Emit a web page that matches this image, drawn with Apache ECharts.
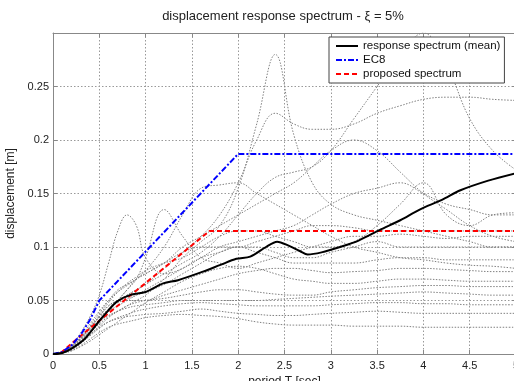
<!DOCTYPE html>
<html><head><meta charset="utf-8">
<script src="https://cdn.jsdelivr.net/npm/echarts@6/dist/echarts.min.js"></script>
<style>html,body{margin:0;padding:0;background:#fff}#c{width:514px;height:381px}</style>
</head><body><div id="c"></div>
<script>
// periods (s) for the individual records
var periods = [0,0.1,0.2,0.3,0.4,0.5,0.6,0.7,0.8,0.9,1.0,1.2,1.4,1.6,1.8,2.0,2.2,2.4,2.6,2.8,3.0,3.25,3.5,3.75,4.0,4.25,4.5,4.75,5.0];
// individual record spectra (m)
var rec1  = [0,.001,.005,.012,.02,.028,.035,.04,.045,.05,.055,.07,.09,.105,.12,.155,.215,.28,.205,.16,.14,.13,.125,.12,.115,.11,.105,.1,.1];
var rec2  = [0,.002,.006,.012,.02,.03,.04,.05,.055,.06,.065,.075,.085,.095,.11,.13,.15,.165,.17,.175,.19,.22,.25,.28,.3,.27,.22,.19,.172];
var rec3  = [0,.002,.007,.015,.025,.035,.045,.05,.055,.06,.065,.08,.095,.11,.13,.16,.2,.225,.215,.21,.21,.215,.225,.232,.238,.24,.24,.238,.237];
var rec4  = [0,.002,.008,.02,.035,.055,.085,.115,.13,.12,.09,.075,.08,.09,.1,.105,.11,.115,.12,.13,.14,.15,.155,.16,.15,.14,.135,.13,.13];
var rec5  = [0,.001,.004,.01,.02,.03,.04,.05,.06,.07,.09,.135,.11,.09,.085,.08,.085,.09,.095,.1,.105,.11,.11,.112,.11,.108,.11,.11,.11];
var rec6  = [0,.002,.007,.015,.025,.035,.045,.05,.052,.055,.058,.065,.075,.085,.095,.1,.1,.095,.09,.09,.095,.1,.105,.1,.1,.1,.1,.1,.1];
var rec7  = [0,.001,.005,.012,.022,.032,.04,.045,.05,.055,.06,.07,.08,.09,.095,.1,.095,.09,.085,.085,.085,.085,.088,.09,.09,.088,.088,.088,.088];
var rec8  = [0,.002,.006,.014,.024,.034,.042,.048,.05,.05,.05,.055,.06,.065,.07,.075,.078,.08,.08,.078,.076,.077,.078,.08,.08,.079,.078,.077,.077];
var rec9  = [0,.001,.004,.01,.018,.026,.034,.04,.045,.048,.05,.052,.055,.058,.06,.06,.058,.056,.055,.055,.058,.06,.062,.063,.064,.064,.063,.063,.063];
var rec10 = [0,.002,.006,.013,.022,.03,.036,.04,.043,.045,.046,.048,.05,.05,.05,.05,.05,.051,.052,.053,.054,.055,.056,.057,.058,.057,.056,.055,.055];
var rec11 = [0,.001,.004,.01,.017,.024,.03,.034,.037,.04,.042,.045,.047,.048,.047,.046,.045,.045,.045,.045,.046,.047,.048,.048,.047,.047,.046,.046,.046];
var rec12 = [0,.001,.005,.011,.018,.025,.03,.033,.035,.036,.037,.038,.04,.042,.04,.038,.037,.036,.036,.037,.038,.039,.04,.039,.038,.038,.038,.038,.038];
var rec13 = [0,.001,.003,.008,.014,.02,.025,.028,.03,.032,.034,.036,.037,.036,.035,.033,.03,.028,.027,.027,.027,.026,.026,.026,.025,.025,.025,.025,.025];
var rec14 = [0,.002,.006,.014,.024,.036,.048,.058,.066,.072,.078,.085,.09,.1,.11,.115,.115,.11,.105,.1,.1,.105,.12,.14,.16,.13,.12,.13,.132];
var rec15 = [0,.001,.005,.012,.02,.03,.04,.05,.06,.07,.075,.085,.095,.1,.1,.1,.105,.11,.115,.12,.12,.118,.115,.115,.115,.115,.115,.115,.115];
var rec16 = [0,.002,.007,.015,.026,.038,.05,.06,.065,.07,.075,.085,.1,.11,.12,.13,.14,.15,.16,.175,.19,.2,.19,.17,.15,.135,.12,.11,.105];
var rec17 = [0,.001,.003,.007,.012,.018,.024,.03,.036,.042,.048,.058,.068,.075,.08,.082,.08,.075,.07,.068,.066,.066,.068,.07,.07,.069,.068,.068,.068];
var rec18 = [0,.002,.007,.016,.028,.04,.05,.058,.064,.07,.078,.1,.13,.155,.158,.16,.15,.14,.13,.12,.11,.1,.095,.09,.088,.085,.083,.082,.08];
var records = [rec1,rec2,rec3,rec4,rec5,rec6,rec7,rec8,rec9,rec10,rec11,rec12,rec13,rec14,rec15,rec16,rec17,rec18];

// mean response spectrum
var meanT = [0,0.1,0.2,0.33,0.4,0.51,0.6,0.69,0.83,1.0,1.19,1.35,1.62,1.8,1.98,2.13,2.3,2.42,2.55,2.67,2.75,2.9,3.1,3.3,3.53,3.75,3.96,4.2,4.4,4.7,5.0];
var meanV = [0,0.001,0.005,0.013,0.02,0.032,0.041,0.049,0.055,0.058,0.066,0.069,0.077,0.083,0.089,0.091,0.1,0.105,0.101,0.096,0.093,0.095,0.1,0.106,0.116,0.125,0.135,0.144,0.153,0.162,0.169];
// EC8 spectrum
var ec8T = [0,0.1,0.2,0.3,0.4,0.5,2.0,5.0];
var ec8V = [0,0.002,0.008,0.018,0.032,0.05,0.187,0.187];
// proposed spectrum
var propT = [0,0.07,0.3,1.69,5.0];
var propV = [0,0,0.017,0.115,0.115];

var yTicks = [0,0.05,0.1,0.15,0.2,0.25];

function pairs(xs, ys){ return xs.map(function(x,i){ return [x, ys[i]]; }); }

var series = [];
records.forEach(function(r, i){
  series.push({
    name: 'record' + (i+1), type: 'line', data: pairs(periods, r), smooth: 0.4,
    symbol: 'none', silent: true, z: 1,
    lineStyle: { color: '#808080', width: 1, type: [1.5, 1.5] }
  });
});
series.push({ name: 'proposed spectrum', type: 'line', data: pairs(propT, propV), symbol: 'none', z: 3,
  lineStyle: { color: '#ff0000', width: 2, type: [5, 3] }, itemStyle: { color: '#ff0000' } });
series.push({ name: 'EC8', type: 'line', data: pairs(ec8T, ec8V), symbol: 'none', z: 4,
  lineStyle: { color: '#0000ff', width: 2, type: [6, 2, 2, 2] }, itemStyle: { color: '#0000ff' } });
series.push({ name: 'response spectrum (mean)', type: 'line', data: pairs(meanT, meanV), symbol: 'none', smooth: 0.3, z: 5,
  lineStyle: { color: '#000000', width: 2 }, itemStyle: { color: '#000000' } });

var axisFrame = { color: '#888', width: 1 };
var chart = echarts.init(document.getElementById('c'));
chart.setOption({
  animation: false,
  backgroundColor: '#ffffff',
  textStyle: { fontFamily: 'Liberation Sans, Arial, sans-serif' },
  title: { text: 'displacement response spectrum - ξ = 5%', left: 278, top: 5, textAlign: 'center',
    textStyle: { fontSize: 13, fontWeight: 'normal', color: '#222' } },
  grid: { left: 53, right: -2, top: 33, bottom: 27, show: false, containLabel: false, outerBoundsMode: 'none' },
  legend: {
    data: ['response spectrum (mean)', 'EC8', 'proposed spectrum'],
    orient: 'vertical', left: 329, top: 37, itemWidth: 22, itemHeight: 8, itemGap: 2,
    padding: [3, 4, 3, 6], backgroundColor: '#fff', borderColor: '#444', borderWidth: 1,
    itemStyle: { opacity: 0 },
    textStyle: { fontSize: 11.5, color: '#111' }, selectedMode: false
  },
  xAxis: [{
    type: 'value', min: 0, max: 5, interval: 0.5,
    name: 'period T [sec]', nameLocation: 'middle', nameGap: 18,
    nameTextStyle: { fontSize: 12, color: '#222' },
    axisLine: { onZero: false, lineStyle: axisFrame },
    axisTick: { inside: true, length: 4, lineStyle: axisFrame },
    axisLabel: { fontSize: 11, color: '#222', margin: 6, formatter: function(v){ return String(+v.toFixed(2)); } },
    splitLine: { show: true, lineStyle: { color: '#999', type: [1.5, 2], width: 1 } }
  }, {
    type: 'value', position: 'top', min: 0, max: 5, interval: 0.5,
    axisLine: { show: true, onZero: false, lineStyle: axisFrame }, axisTick: { show: true, inside: true, length: 4, lineStyle: axisFrame },
    axisLabel: { show: false }, splitLine: { show: false }
  }],
  yAxis: [{
    type: 'value', min: 0, max: 0.3, interval: 0.05,
    name: 'displacement [m]', nameLocation: 'middle', nameGap: 31,
    nameTextStyle: { fontSize: 12, color: '#222' },
    axisLine: { show: true, onZero: false, lineStyle: axisFrame },
    axisTick: { show: true, inside: true, length: 4, lineStyle: axisFrame },
    axisLabel: { fontSize: 11, color: '#222', margin: 4, formatter: function(v){
      var r = +v.toFixed(3); return yTicks.indexOf(r) >= 0 ? String(r) : ''; } },
    splitLine: { show: true, lineStyle: { color: '#999', type: [1.5, 2], width: 1 } }
  }, {
    type: 'value', position: 'right', min: 0, max: 0.3, interval: 0.05,
    axisLine: { show: true, onZero: false, lineStyle: axisFrame }, axisTick: { show: true, inside: true, length: 4, lineStyle: axisFrame },
    axisLabel: { show: false }, splitLine: { show: false }
  }],
  series: series
});
</script></body></html>
